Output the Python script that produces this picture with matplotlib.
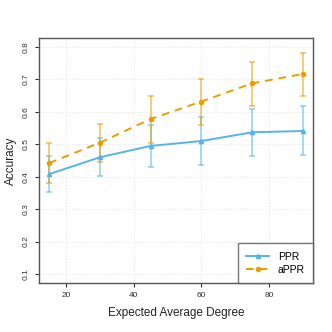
import matplotlib
matplotlib.use("Agg")
import matplotlib.pyplot as plt

plt.rcParams["font.family"] = ["Liberation Sans", "DejaVu Sans"]

degree = [15, 30, 45, 60, 75, 90]

ppr_mean = [0.408, 0.460, 0.495, 0.510, 0.537, 0.541]
ppr_low = [0.352, 0.401, 0.429, 0.436, 0.465, 0.466]
ppr_high = [0.464, 0.519, 0.561, 0.584, 0.608, 0.617]

appr_mean = [0.442, 0.505, 0.578, 0.632, 0.688, 0.717]
appr_low = [0.379, 0.446, 0.505, 0.559, 0.619, 0.648]
appr_high = [0.505, 0.562, 0.650, 0.702, 0.755, 0.783]

blue = "#56B4E9"
orange = "#E69F00"

fig = plt.figure(figsize=(3.32, 3.32), dpi=100)
ax = fig.add_axes([0.1175, 0.1476, 0.8255, 0.738])

# error bars (light, behind the lines)
ax.errorbar(degree, ppr_mean,
            yerr=[[m - l for m, l in zip(ppr_mean, ppr_low)],
                  [h - m for m, h in zip(ppr_mean, ppr_high)]],
            fmt="none", ecolor=blue, alpha=0.6, elinewidth=1.2, capsize=2.2, capthick=1.2)
ax.errorbar(degree, appr_mean,
            yerr=[[m - l for m, l in zip(appr_mean, appr_low)],
                  [h - m for m, h in zip(appr_mean, appr_high)]],
            fmt="none", ecolor=orange, alpha=0.6, elinewidth=1.2, capsize=2.2, capthick=1.2)

ax.plot(degree, ppr_mean, color=blue, lw=1.4, marker="^", ms=3, label="PPR")
ax.plot(degree, appr_mean, color=orange, lw=1.4, ls=(0, (4, 3)), marker="o", ms=3, label="aPPR")

ax.set_xlim(12, 93)
ax.set_ylim(0.072, 0.828)
ax.set_xticks([20, 40, 60, 80])
ax.set_yticks([0.1, 0.2, 0.3, 0.4, 0.5, 0.6, 0.7, 0.8])
ax.set_yticklabels(["0.1", "0.2", "0.3", "0.4", "0.5", "0.6", "0.7", "0.8"], rotation=90, va="center")
ax.tick_params(labelsize=6, length=3, color="#333333", labelcolor="#333333")
ax.grid(True, color="#e6e6e6", ls=":", lw=0.8)
for s in ax.spines.values():
    s.set_color("#555555")
    s.set_linewidth(1)

ax.set_xlabel("Expected Average Degree", fontsize=8.5, color="#222222", labelpad=6)
ax.set_ylabel("Accuracy", fontsize=8.5, color="#222222", labelpad=4)

leg = ax.legend(loc="lower right", fontsize=7.5, frameon=True, fancybox=False,
                borderaxespad=0, handlelength=2.2, handletextpad=0.8,
                borderpad=0.8, labelspacing=0.3)
leg.get_frame().set_edgecolor("#555555")
leg.get_frame().set_linewidth(1)

fig.savefig("out.png", dpi=100)
